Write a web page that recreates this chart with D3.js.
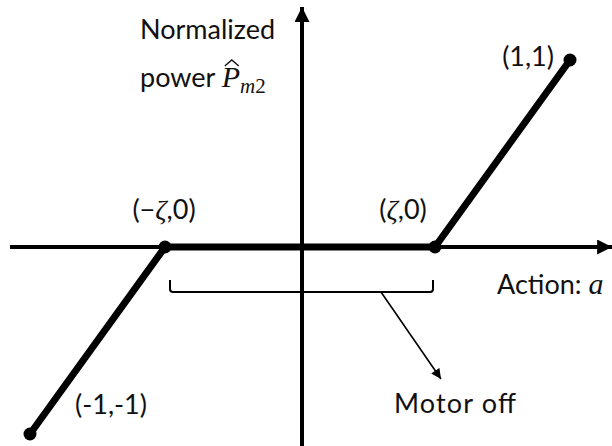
<!DOCTYPE html>
<html>
<head>
<meta charset="utf-8">
<script src="https://cdn.jsdelivr.net/npm/d3@7"></script>
<style>
  html, body { margin: 0; padding: 0; background: #fff; }
  svg { display: block; }
  .lbl { font-family: Lato, "Open Sans", sans-serif; fill: #111; }
  .math { font-family: "Liberation Serif", "DejaVu Serif", serif; font-style: italic; fill: #111; }
</style>
</head>
<body>
<svg id="chart" width="612" height="446"></svg>
<script>
// Dead-zone threshold
const zeta = 0.5;

// Piecewise-linear mapping from action a to normalized power
const actionPts = [-1, -zeta, zeta, 1];
const powerPts  = [-1, 0, 0, 1];

// Labelled knots
const knotLabels = ["(-1,-1)", "(\u2212\u03B6,0)", "(\u03B6,0)", "(1,1)"];

// Extent of the drawn axes (data units)
const xAxisExtent = [-1.074, 1.156];
const yAxisExtent = [-1.064, 1.283];

const W = 612, H = 446;
const svg = d3.select("#chart");

const x = d3.scaleLinear().domain([-1, 1]).range([30, 570]);
const y = d3.scaleLinear().domain([-1, 1]).range([434, 60]);

const defs = svg.append("defs");
defs.append("marker").attr("id", "axhead")
  .attr("viewBox", "0 0 10 10").attr("refX", 10).attr("refY", 5)
  .attr("markerUnits", "userSpaceOnUse")
  .attr("markerWidth", 16).attr("markerHeight", 15).attr("orient", "auto")
  .append("path").attr("d", "M0,0 L10,5 L0,10 Z").attr("fill", "#000");
defs.append("marker").attr("id", "smallhead")
  .attr("viewBox", "0 0 10 10").attr("refX", 10).attr("refY", 5)
  .attr("markerUnits", "userSpaceOnUse")
  .attr("markerWidth", 11).attr("markerHeight", 10).attr("orient", "auto")
  .append("path").attr("d", "M0,0 L10,5 L0,10 Z").attr("fill", "#000");

// Axes through the origin, with arrow heads
svg.append("line")
  .attr("x1", x(xAxisExtent[0])).attr("x2", x(xAxisExtent[1]))
  .attr("y1", y(0)).attr("y2", y(0))
  .attr("stroke", "#000").attr("stroke-width", 4)
  .attr("marker-end", "url(#axhead)");
svg.append("line")
  .attr("x1", x(0) + 2).attr("x2", x(0) + 2)
  .attr("y1", y(yAxisExtent[0])).attr("y2", y(yAxisExtent[1]))
  .attr("stroke", "#000").attr("stroke-width", 4)
  .attr("marker-end", "url(#axhead)");

// Power curve
const pts = actionPts.map((a, i) => [a, powerPts[i]]);
svg.append("path")
  .datum(pts)
  .attr("d", d3.line().x(d => x(d[0])).y(d => y(d[1])))
  .attr("fill", "none").attr("stroke", "#000")
  .attr("stroke-width", 7).attr("stroke-linejoin", "round");

svg.selectAll("circle.knot").data(pts).join("circle")
  .attr("class", "knot")
  .attr("cx", d => x(d[0])).attr("cy", d => y(d[1]))
  .attr("r", 6.5).attr("fill", "#000");

// Bracket marking the dead zone
const bx0 = x(-zeta) + 5, bx1 = x(zeta) - 2;
const bTop = y(0) + 33, bBot = y(0) + 45, rr = 3;
svg.append("path")
  .attr("d", `M${bx0},${bTop} L${bx0},${bBot - rr} Q${bx0},${bBot} ${bx0 + rr},${bBot}
              L${bx1 - rr},${bBot} Q${bx1},${bBot} ${bx1},${bBot - rr} L${bx1},${bTop}`)
  .attr("fill", "none").attr("stroke", "#000").attr("stroke-width", 2);

// Pointer to the "Motor off" note
svg.append("line")
  .attr("x1", x(0.3)).attr("y1", bBot)
  .attr("x2", x(0.3) + 60).attr("y2", bBot + 87)
  .attr("stroke", "#000").attr("stroke-width", 1.6)
  .attr("marker-end", "url(#smallhead)");

const fs = 27;
svg.append("text").attr("class", "lbl").attr("font-size", fs)
  .attr("x", 394).attr("y", 413).attr("textLength", 122).text("Motor off");

// Knot labels
const labelPos = [
  { dx: 45, dy: -20, anchor: "start" },
  { dx: -1, dy: -28, anchor: "middle" },
  { dx: -32, dy: -28, anchor: "middle" },
  { dx: -16, dy: 6, anchor: "end" }
];
pts.forEach((p, i) => {
  const t = svg.append("text").attr("class", "lbl").attr("font-size", fs)
    .attr("text-anchor", labelPos[i].anchor)
    .attr("x", x(p[0]) + labelPos[i].dx).attr("y", y(p[1]) + labelPos[i].dy);
  const s = knotLabels[i];
  if (s.includes("\u03B6")) {
    const k = s.indexOf("\u03B6");
    t.append("tspan").text(s.slice(0, k));
    t.append("tspan").attr("class", "math").attr("font-size", fs + 1).text("\u03B6");
    t.append("tspan").text(s.slice(k + 1));
  } else {
    t.text(s);
  }
});

// Axis titles
svg.append("text").attr("class", "lbl").attr("font-size", fs)
  .attr("x", 140).attr("y", 39).text("Normalized");
const yt = svg.append("text").attr("class", "lbl").attr("font-size", fs)
  .attr("x", 140).attr("y", 87);
yt.append("tspan").text("power ");
yt.append("tspan").attr("class", "math").attr("font-size", 30).text("P");
yt.append("tspan").attr("class", "math").attr("font-size", 21).attr("dy", 6).text("m");
yt.append("tspan").attr("font-family", "Liberation Serif, serif").attr("font-size", 21).text("2");

// Circumflex over P, drawn as a stroke
const pBox = yt.node().getExtentOfChar(6);
const hx = pBox.x + pBox.width * 0.55, hy = pBox.y + 4;
svg.append("path")
  .attr("d", `M${hx - 7},${hy + 2} L${hx},${hy - 4} L${hx + 7},${hy + 2}`)
  .attr("fill", "none").attr("stroke", "#111").attr("stroke-width", 1.4);

const xt = svg.append("text").attr("class", "lbl").attr("font-size", fs)
  .attr("x", 497).attr("y", 294);
xt.append("tspan").text("Action: ");
xt.append("tspan").attr("class", "math").attr("font-size", 30).text("a");
</script>
</body>
</html>
